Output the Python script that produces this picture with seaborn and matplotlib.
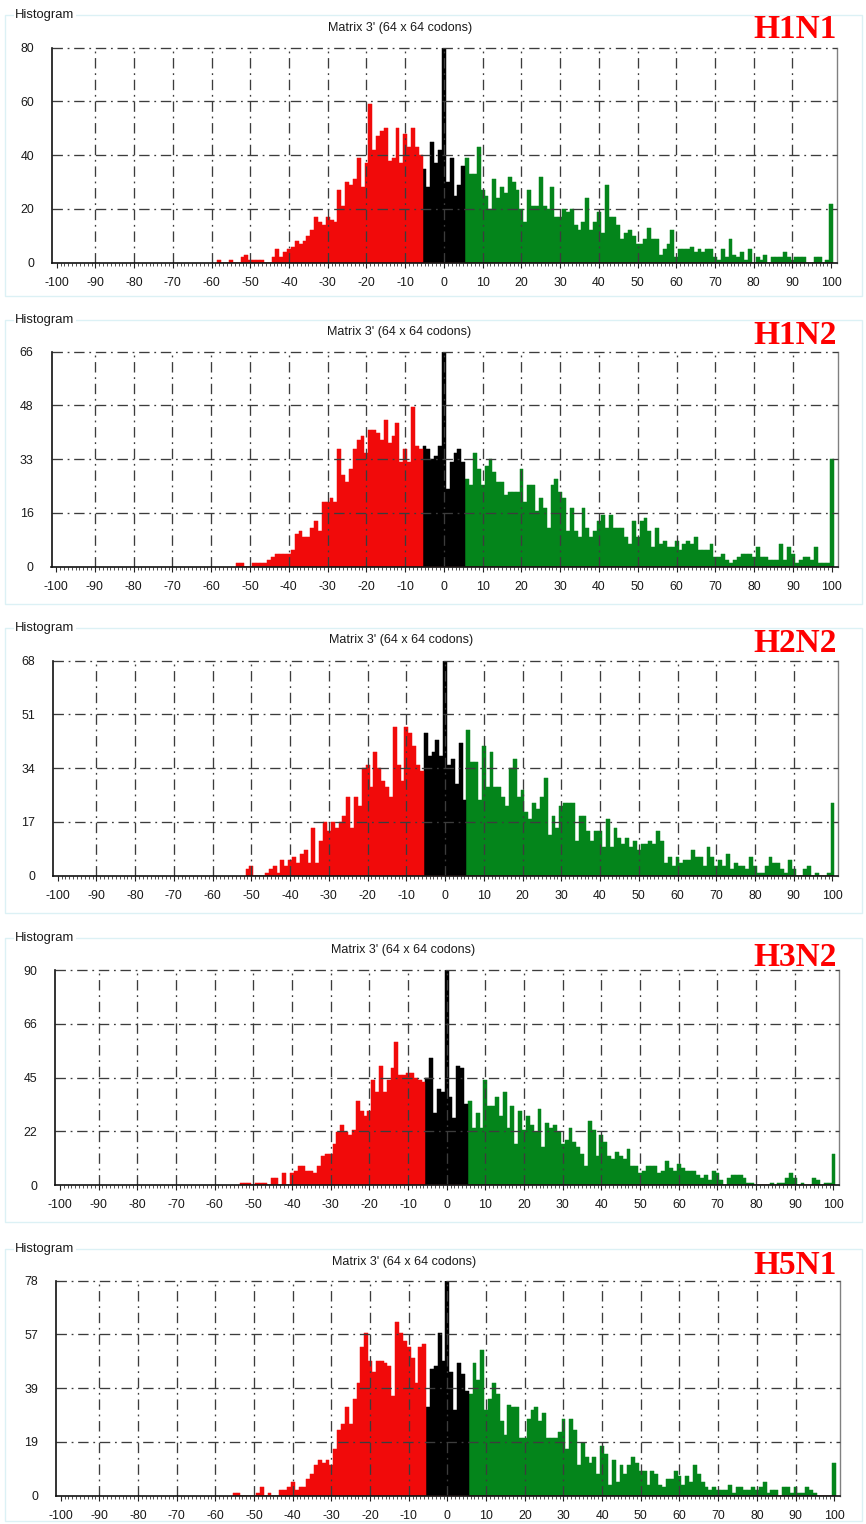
import numpy as np
import pandas as pd
import matplotlib
matplotlib.use("Agg")
import matplotlib.pyplot as plt
import seaborn as sns
from matplotlib.patches import Rectangle

sns.set_theme(style="white")
plt.rcParams["font.family"] = ["Liberation Sans", "DejaVu Sans"]
plt.rcParams["lines.scale_dashes"] = False

# ---------------------------------------------------------------- data
subtypes = ["H1N1", "H1N2", "H2N2", "H3N2", "H5N1"]

# first bin of each count list; every list then runs in steps of 1 up to 100
first_bins = [-58, -53, -51, -53, -55]

h1n1_counts = [
    1, 0, 0, 1, 0, 0, 2, 3, 1, 1, 1, 1, 0, 0, 2, 5, 2, 4, 5, 6,
    8, 7, 8, 10, 12, 17, 15, 14, 17, 16, 15, 27, 21, 30, 29, 31, 39, 28, 37, 59,
    42, 47, 49, 50, 38, 39, 50, 37, 48, 43, 50, 43, 40,
    35, 28, 45, 37, 42, 80, 30, 39, 25, 29, 36,
    39, 33, 33, 43, 27, 25, 20, 31, 24, 28, 26, 32, 30, 27, 20, 15, 27, 21, 21, 32,
    21, 20, 28, 17, 17, 20, 19, 20, 14, 12, 15, 24, 12, 15, 19, 11, 29, 17, 17, 14,
    9, 11, 12, 10, 7, 7, 9, 13, 9, 9, 3, 5, 7, 12, 2, 5, 5, 5, 6, 4,
    5, 4, 5, 5, 2, 1, 5, 2, 9, 3, 2, 4, 1, 5, 0, 2, 1, 3, 0, 2,
    2, 2, 4, 2, 1, 2, 2, 2, 0, 0, 2, 2, 0, 1, 22,
]

h1n2_counts = [
    1, 1, 0, 0, 1, 1, 1, 1, 2, 3, 4, 4, 4, 4, 5, 10, 11, 9, 9, 12,
    14, 11, 20, 20, 21, 20, 36, 28, 26, 30, 36, 39, 40, 35, 42, 42, 41, 39, 45, 38,
    40, 44, 32, 36, 32, 49, 37, 36,
    37, 36, 33, 34, 37, 66, 24, 32, 35, 36, 32,
    27, 25, 35, 30, 25, 31, 33, 29, 26, 26, 22, 23, 23, 23, 30, 20, 25, 25, 17, 21,
    18, 12, 25, 27, 23, 21, 11, 18, 11, 9, 18, 12, 9, 11, 14, 16, 12, 16, 12, 12,
    12, 9, 7, 14, 9, 14, 15, 11, 6, 12, 7, 8, 6, 6, 8, 5, 7, 8, 7, 9,
    5, 5, 5, 7, 3, 3, 4, 2, 1, 2, 3, 4, 4, 4, 3, 6, 3, 3, 2, 2,
    2, 7, 2, 6, 4, 1, 2, 3, 3, 2, 6, 1, 1, 1, 33,
]

h2n2_counts = [
    2, 3, 0, 0, 0, 1, 2, 3, 1, 5, 3, 5, 6, 4, 7, 8, 4, 15, 4, 11,
    17, 14, 17, 15, 17, 19, 25, 15, 25, 22, 34, 35, 28, 39, 34, 30, 28, 25, 47, 35,
    30, 47, 45, 41, 35, 33,
    45, 38, 39, 43, 38, 68, 35, 37, 29, 42, 24,
    46, 36, 36, 24, 41, 28, 39, 28, 28, 25, 22, 34, 37, 25, 27, 20, 18, 23, 21, 25,
    31, 13, 19, 15, 22, 23, 23, 23, 11, 19, 19, 14, 11, 14, 14, 9, 18, 9, 15, 12,
    10, 12, 9, 11, 8, 10, 10, 11, 10, 14, 11, 4, 6, 3, 6, 4, 5, 5, 8, 6,
    6, 3, 9, 6, 3, 5, 3, 7, 2, 4, 3, 3, 2, 6, 3, 1, 1, 3, 6, 4,
    4, 2, 1, 5, 2, 0, 0, 2, 3, 0, 1, 0, 0, 1, 23,
]

h3n2_counts = [
    1, 1, 1, 0, 1, 1, 1, 0, 3, 3, 0, 5, 0, 5, 6, 8, 8, 6, 6, 5,
    8, 12, 13, 13, 17, 22, 25, 22, 21, 23, 35, 31, 29, 31, 44, 39, 50, 39, 44, 49,
    60, 46, 46, 47, 47, 45, 44, 43,
    45, 53, 30, 40, 39, 90, 37, 28, 50, 49, 34,
    35, 24, 30, 24, 44, 33, 33, 37, 29, 39, 24, 33, 17, 31, 23, 29, 25, 22, 32, 16,
    26, 24, 25, 22, 17, 19, 24, 18, 16, 13, 8, 27, 23, 12, 21, 18, 12, 11, 14, 12,
    11, 15, 8, 8, 5, 6, 8, 8, 8, 5, 6, 10, 7, 6, 9, 7, 6, 6, 6, 4,
    3, 4, 2, 6, 5, 2, 0, 3, 4, 4, 4, 3, 1, 1, 0, 0, 0, 0, 1, 0,
    1, 1, 3, 5, 3, 0, 1, 0, 0, 3, 2, 0, 1, 1, 13,
]

h5n1_counts = [
    1, 1, 0, 0, 0, 0, 1, 3, 0, 1, 0, 0, 2, 2, 3, 5, 2, 3, 3, 6,
    8, 11, 13, 12, 13, 11, 17, 24, 26, 32, 26, 35, 41, 54, 59, 49, 45, 49, 49, 48,
    47, 36, 63, 59, 56, 54, 50, 41, 54, 55,
    32, 46, 47, 59, 49, 78, 45, 31, 48, 44, 38,
    37, 48, 42, 53, 31, 35, 41, 37, 27, 22, 33, 32, 32, 21, 21, 28, 31, 32, 27, 30,
    21, 21, 21, 23, 28, 17, 28, 24, 11, 19, 14, 12, 14, 8, 18, 15, 4, 13, 5, 11,
    8, 11, 14, 12, 9, 9, 4, 9, 8, 4, 3, 6, 6, 9, 7, 4, 7, 5, 11, 8,
    5, 3, 2, 3, 2, 2, 2, 4, 1, 3, 3, 2, 2, 3, 2, 3, 5, 1, 2, 2,
    0, 3, 3, 1, 3, 1, 1, 3, 2, 1, 0, 0, 0, 0, 12,
]

all_counts = [h1n1_counts, h1n2_counts, h2n2_counts, h3n2_counts, h5n1_counts]

y_max = [80, 66, 68, 90, 78]
y_tick_labels = [
    ["0", "20", "40", "60", "80"],
    ["0", "16", "33", "48", "66"],
    ["0", "17", "34", "51", "68"],
    ["0", "22", "45", "66", "90"],
    ["0", "19", "39", "57", "78"],
]
x_tick_values = list(range(-100, 101, 10))
x_tick_labels = [str(v) for v in x_tick_values]

zones = ["negative", "neutral", "positive"]
zone_colors = {"negative": "#f10a0a", "neutral": "#000000", "positive": "#04851b"}
neutral_limit = 5

panel_title = "Matrix 3' (64 x 64 codons)"
box_title = "Histogram"

# ---------------------------------------------------------------- layout (pixels)
W, H = 866, 1524
axes_px = [  # left, right, top, bottom
    (52.0, 837.0, 47.7, 262.7),
    (51.5, 837.5, 351.7, 566.7),
    (53.0, 838.3, 660.7, 875.7),
    (55.2, 839.3, 970.0, 1185.0),
    (56.0, 840.0, 1280.7, 1495.7),
]
box_top = [15, 320, 628, 938, 1249]
box_bottom = [296, 604, 913, 1222, 1521]
title_y = [28, 332, 640, 950, 1262]
label_y = [30, 335, 643, 957, 1265]

fig = plt.figure(figsize=(W / 100, H / 100), dpi=100)
fig.patch.set_facecolor("white")

grid_style = dict(color="#3c3c3c", lw=0.95, ls=(0, (7.5, 3.4, 1.3, 3.4)), zorder=3)


def fx(px):
    return px / W


def fy(py):
    return 1 - py / H


for i, name in enumerate(subtypes):
    counts = all_counts[i]
    scores = np.arange(first_bins[i], first_bins[i] + len(counts))
    zone = np.where(scores < -neutral_limit, "negative",
                    np.where(scores > neutral_limit, "positive", "neutral"))
    df = pd.DataFrame({"score": scores, "count": counts, "zone": zone})

    # light group-box frame around the panel
    fig.add_artist(Rectangle((fx(5), fy(box_bottom[i])), fx(862) - fx(5),
                             fy(box_top[i]) - fy(box_bottom[i]),
                             transform=fig.transFigure, fill=False,
                             edgecolor="#dcf1f5", lw=1.0, zorder=0))

    l, r, t, b = axes_px[i]
    ax = fig.add_axes([fx(l), fy(b), fx(r) - fx(l), fy(t) - fy(b)])
    ax.set_facecolor("white")

    sns.histplot(data=df, x="score", weights="count", hue="zone",
                 hue_order=zones, palette=zone_colors, discrete=True,
                 shrink=1.0, alpha=1.0, linewidth=0,
                 multiple="layer", element="bars", fill=True,
                 legend=False, ax=ax)
    # close the hairline seams between neighbouring bars
    for bar in ax.patches:
        bar.set_edgecolor(bar.get_facecolor())
        bar.set_linewidth(0.35)

    ymax = y_max[i]
    ax.set_xlim(-101.2, 101.5)
    ax.set_ylim(0, ymax)
    ax.set_xlabel("")
    ax.set_ylabel("")

    # dash-dot grid drawn over the bars
    for xv in range(-90, 91, 10):
        ax.axvline(xv, **grid_style)
    levels = [ymax * k / 4 for k in range(5)]
    for yv in levels[1:]:
        ax.axhline(yv, clip_on=False, **grid_style)

    ax.set_xticks(x_tick_values)
    ax.set_xticklabels(x_tick_labels)
    ax.set_xticks(np.arange(-100, 101, 1), minor=True)
    ax.set_yticks(levels)
    ax.set_yticklabels(y_tick_labels[i])
    ax.tick_params(axis="x", which="major", length=3.5, width=0.8,
                   direction="out", color="#222222", pad=6.5,
                   labelsize=8.9, labelcolor="#1a1a1a", bottom=True)
    ax.tick_params(axis="x", which="minor", length=2.0, width=0.6,
                   direction="out", color="#333333", bottom=True)
    ax.tick_params(axis="y", length=0, pad=13, labelsize=8.9,
                   labelcolor="#1a1a1a", left=True)

    for side in ("left", "bottom"):
        ax.spines[side].set_visible(True)
        ax.spines[side].set_color("#111111")
        ax.spines[side].set_linewidth(1.2)
        ax.spines[side].set_zorder(4)
    ax.spines["right"].set_visible(True)
    ax.spines["right"].set_color("#808080")
    ax.spines["right"].set_linewidth(1.0)
    ax.spines["top"].set_visible(False)

    fig.text(fx(15), fy(box_top[i]), box_title, ha="left", va="center",
             fontsize=9.4, color="#1a1a1a",
             bbox=dict(facecolor="white", edgecolor="none", pad=1.0))
    fig.text(fx(400 + (l - 52)), fy(title_y[i]), panel_title, ha="center",
             va="center", fontsize=9.0, color="#1a1a1a")
    fig.text(fx(837), fy(label_y[i]), name, ha="right", va="center",
             fontsize=24, fontweight="bold", color="#ff0000",
             family=["Liberation Serif", "DejaVu Serif"])

fig.savefig("out.png", dpi=100, facecolor="white")
